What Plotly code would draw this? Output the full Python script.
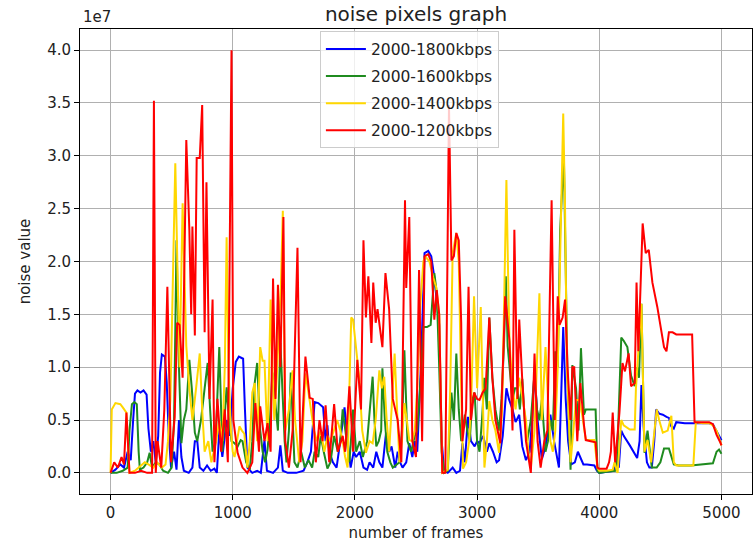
import plotly.graph_objects as go

# values in units of 1e7
blue_frames = [0,40,80,110,140,165,185,200,220,245,270,295,310,330,350,370,390,405,420,445,460,475,495,520,540,560,580,600,640,670,690,710,730,760,790,820,850,870,890,915,950,975,1000,1025,1050,1085,1100,1120,1160,1200,1230,1260,1280,1330,1370,1390,1410,1450,1520,1580,1610,1640,1670,1700,1740,1760,1775,1790,1820,1850,1880,1915,1940,1965,1990,2010,2040,2070,2100,2120,2150,2175,2200,2225,2255,2280,2300,2330,2350,2370,2390,2420,2445,2470,2490,2510,2540,2570,2600,2625,2650,2670,2690,2710,2730,2760,2800,2830,2860,2880,2900,2925,2950,2980,3000,3020,3050,3080,3100,3130,3160,3180,3210,3240,3260,3290,3315,3345,3370,3400,3430,3450,3470,3495,3530,3560,3600,3630,3670,3690,3705,3725,3745,3770,3800,3825,3845,3870,3900,3960,3980,4000,4060,4120,4140,4160,4180,4200,4250,4310,4330,4345,4365,4390,4410,4430,4450,4465,4490,4520,4550,4570,4590,4610,4630,4700,4800,4900,4930,4960,5000]
blue_values = [0.0,0.03,0.08,0.05,0.2,0.12,0.5,0.75,0.78,0.76,0.78,0.74,0.42,0.2,0.3,0.1,0.35,0.95,1.12,1.1,0.85,0.4,0.05,0.2,0.03,0.5,0.15,0.02,0.0,0.05,0.3,0.3,0.05,0.02,0.07,0.02,0.04,0.0,0.4,0.15,0.5,0.35,0.8,1.05,1.1,1.08,0.6,0.05,0.0,0.02,0.0,0.31,0.02,0.0,0.05,0.26,0.02,0.0,0.0,0.02,0.1,0.2,0.67,0.66,0.62,0.3,0.45,0.2,0.1,0.05,0.3,0.62,0.3,0.05,0.2,0.15,0.2,0.05,0.03,0.1,0.05,0.2,0.1,0.05,0.38,0.2,0.25,0.05,0.2,0.1,0.05,0.1,0.28,0.15,0.3,0.2,1.0,2.08,2.1,2.05,1.85,1.6,1.4,0.3,0.02,0.0,0.05,0.0,0.02,0.28,0.1,0.53,0.3,0.25,0.3,0.28,0.35,0.2,0.28,0.2,0.1,0.12,0.35,0.8,0.7,0.6,0.48,0.55,0.25,0.12,0.2,0.5,0.97,0.5,0.13,0.25,0.55,0.3,0.05,0.8,1.38,0.7,0.3,0.08,0.1,0.2,0.15,0.08,0.08,0.07,0.02,0.0,0.01,0.02,0.1,0.05,0.4,0.35,0.26,0.14,0.3,0.83,0.4,0.1,0.05,0.05,0.3,0.6,0.56,0.55,0.53,0.52,0.44,0.42,0.48,0.47,0.47,0.47,0.46,0.4,0.31]

green_frames = [0,50,100,140,155,175,195,215,230,240,270,300,320,340,370,400,430,470,500,520,540,560,580,600,620,645,665,690,710,740,770,795,815,835,860,890,915,935,950,970,990,1015,1040,1065,1080,1110,1140,1160,1180,1200,1225,1245,1265,1285,1305,1325,1345,1370,1390,1405,1425,1440,1460,1475,1490,1505,1530,1560,1590,1620,1650,1670,1700,1720,1745,1775,1800,1830,1860,1880,1900,1920,1955,1985,2010,2040,2065,2100,2125,2145,2160,2175,2195,2215,2225,2245,2265,2290,2310,2340,2365,2385,2405,2430,2460,2490,2510,2545,2560,2590,2620,2650,2670,2690,2710,2730,2760,2790,2810,2830,2850,2870,2900,2920,2940,2960,2980,3000,3020,3040,3060,3080,3100,3125,3150,3180,3200,3220,3235,3250,3265,3290,3310,3330,3350,3370,3390,3410,3440,3470,3490,3510,3530,3560,3580,3600,3620,3640,3660,3680,3710,3725,3740,3765,3780,3810,3830,3850,3875,3890,3930,3970,3985,4000,4060,4130,4145,4165,4180,4200,4230,4260,4290,4310,4325,4345,4370,4395,4430,4470,4500,4530,4570,4610,4650,4750,4850,4930,4960,4980,5000]
green_values = [0.0,0.0,0.02,0.05,0.4,0.65,0.67,0.65,0.2,0.03,0.05,0.1,0.19,0.05,0.1,0.08,0.02,0.0,0.05,0.5,2.2,1.0,0.28,0.5,0.6,1.07,0.8,0.38,0.3,0.5,0.8,1.04,0.6,0.2,0.3,1.19,0.2,0.5,0.81,0.5,0.3,0.28,0.25,0.31,0.3,0.1,0.03,0.3,0.85,1.04,0.4,0.2,0.1,0.22,0.5,0.95,0.7,0.4,1.23,0.85,0.3,0.1,0.4,0.95,0.5,0.1,0.05,0.2,0.05,0.12,0.05,0.2,0.15,0.35,0.2,0.04,0.1,0.35,0.2,0.3,0.6,0.4,0.1,0.6,0.2,0.3,0.15,0.3,0.6,0.91,0.5,0.25,0.3,0.4,0.99,0.5,0.2,0.1,0.05,0.08,0.1,0.4,1.16,0.3,0.2,0.35,0.4,1.0,1.38,1.38,1.4,1.89,1.7,1.0,0.2,0.0,0.02,0.76,0.5,1.13,0.6,0.3,0.55,0.4,0.3,0.69,0.76,0.3,0.2,0.5,0.9,0.6,1.47,0.9,0.6,0.4,0.7,1.2,1.86,1.2,1.0,0.69,0.8,0.8,0.6,0.89,0.5,0.3,0.5,0.95,0.6,0.5,0.69,0.2,0.3,0.5,0.4,1.15,1.0,2.3,3.0,1.8,0.9,0.03,1.02,0.8,0.4,1.18,0.55,0.6,0.6,0.6,0.02,0.0,0.01,0.02,0.1,0.7,1.28,1.25,1.19,0.92,0.82,1.0,0.9,1.6,0.19,0.4,0.05,0.05,0.1,0.23,0.23,0.08,0.07,0.07,0.08,0.09,0.2,0.22,0.18]

yellow_frames = [0,10,40,80,100,130,155,200,250,280,310,350,380,420,450,470,490,530,550,565,590,605,620,645,670,700,730,750,770,800,825,845,865,890,915,935,950,965,985,1000,1015,1035,1055,1075,1095,1120,1140,1160,1180,1200,1225,1245,1260,1285,1310,1325,1340,1360,1380,1395,1410,1430,1460,1490,1510,1545,1570,1595,1615,1640,1665,1690,1720,1750,1775,1800,1830,1855,1880,1900,1920,1940,1955,1970,1985,2010,2035,2060,2090,2120,2145,2170,2200,2220,2240,2260,2280,2300,2325,2345,2365,2385,2405,2425,2445,2470,2490,2510,2530,2560,2575,2610,2640,2665,2690,2715,2760,2780,2800,2830,2850,2870,2885,2910,2935,2955,2975,3000,3030,3060,3080,3100,3125,3150,3180,3205,3220,3240,3255,3265,3290,3315,3345,3370,3400,3420,3440,3470,3490,3510,3530,3560,3580,3600,3620,3640,3660,3680,3705,3720,3735,3765,3790,3810,3835,3860,3890,3930,3960,3985,4000,4060,4110,4125,4150,4180,4200,4250,4290,4300,4315,4345,4370,4395,4425,4450,4470,4490,4520,4560,4590,4610,4630,4700,4770,4790,4850,4900,4930,4960,5000]
yellow_values = [0.0,0.6,0.66,0.65,0.62,0.57,0.0,0.02,0.07,0.1,0.08,0.05,0.1,0.05,0.08,0.3,0.7,2.93,1.8,1.0,2.55,1.8,1.2,0.8,0.5,0.8,1.13,0.6,0.2,0.3,0.1,0.2,0.3,0.5,0.3,1.0,2.23,1.0,0.4,0.2,0.15,0.3,0.44,0.4,0.37,0.05,0.3,0.76,0.85,0.3,1.19,1.06,1.06,0.3,1.64,1.0,0.5,0.9,1.45,1.8,2.48,0.4,0.6,0.97,0.5,0.1,0.3,0.94,0.8,0.6,0.4,0.3,0.4,0.2,0.35,0.3,0.4,0.5,0.4,0.3,0.15,0.05,0.8,1.47,1.45,1.16,0.9,0.4,0.19,0.3,0.28,0.5,0.97,0.8,0.91,0.5,0.2,0.6,1.13,0.6,0.1,0.3,0.66,0.5,0.31,0.3,0.4,0.8,1.5,2.0,2.05,2.0,1.85,1.76,1.5,0.0,0.03,0.8,2.08,2.27,2.0,0.8,0.04,0.1,0.3,0.8,1.67,0.8,1.57,0.05,0.3,0.68,0.5,0.4,0.19,0.6,1.6,2.77,1.8,1.25,0.8,0.6,0.9,0.7,0.5,0.2,0.05,0.4,1.0,1.7,0.5,1.19,0.7,0.3,0.2,0.4,1.0,2.0,3.4,2.5,1.0,0.1,0.4,0.69,0.69,0.55,0.31,0.31,0.31,0.05,0.02,0.02,0.03,0.1,0.0,0.5,0.45,0.41,0.41,0.8,1.07,1.6,0.2,0.31,0.1,0.4,0.6,0.5,0.38,0.4,0.54,0.1,0.07,0.07,0.07,0.48,0.47,0.47,0.45,0.4,0.26]

red_frames = [0,30,60,90,110,130,155,200,250,300,340,355,370,385,415,440,465,480,495,525,545,565,590,620,645,660,670,690,705,730,750,770,785,810,835,850,875,905,935,960,990,1005,1040,1080,1120,1160,1185,1215,1225,1260,1285,1310,1330,1350,1370,1390,1415,1430,1460,1490,1530,1555,1595,1630,1655,1680,1710,1735,1760,1790,1830,1860,1900,1920,1955,1985,2020,2050,2070,2090,2110,2135,2150,2170,2185,2225,2250,2280,2310,2350,2380,2410,2420,2445,2470,2500,2525,2550,2570,2600,2625,2650,2670,2690,2715,2740,2770,2790,2810,2830,2850,2870,2880,2910,2930,2950,2975,3000,3020,3045,3070,3100,3125,3150,3190,3230,3265,3290,3305,3330,3345,3370,3400,3440,3470,3495,3520,3550,3575,3610,3635,3660,3675,3700,3720,3740,3765,3780,3795,3820,3845,3875,3890,3930,3970,3985,4000,4060,4080,4095,4110,4130,4165,4190,4210,4240,4260,4290,4305,4320,4335,4355,4380,4405,4435,4475,4530,4550,4570,4600,4630,4700,4760,4780,4850,4900,4930,4960,4990,5000]
red_values = [0.0,0.1,0.05,0.15,0.08,0.57,0.0,0.0,0.02,0.0,0.0,3.52,0.0,0.3,0.05,0.6,1.76,0.8,0.1,0.53,1.42,1.4,0.9,3.15,2.3,1.5,2.33,1.3,2.98,2.98,3.48,1.33,2.75,0.7,1.64,0.1,0.7,0.2,0.6,0.1,4.0,0.5,0.19,0.05,0.0,0.1,0.66,0.2,0.63,0.3,0.47,0.2,1.84,0.7,1.78,1.0,2.42,0.3,0.05,0.4,2.13,0.1,1.1,0.71,0.7,0.1,0.5,0.3,0.64,0.1,0.65,0.2,0.35,0.2,0.82,0.2,1.07,0.6,2.2,1.47,1.86,1.23,1.8,1.42,1.55,1.19,1.89,1.55,0.7,0.5,0.1,2.58,1.75,2.42,0.3,0.15,1.92,0.3,2.05,2.07,2.0,1.45,1.73,1.5,0.0,0.0,3.48,2.01,2.05,2.27,2.2,1.42,0.3,0.6,1.76,0.5,0.76,0.7,0.69,0.76,0.8,1.47,0.9,0.5,0.28,1.67,1.25,0.4,2.3,0.7,1.45,0.87,0.3,0.0,1.13,0.3,0.05,0.3,0.4,2.58,0.5,1.67,1.4,1.47,1.64,1.0,0.5,1.0,1.0,0.3,0.85,0.45,0.31,0.3,0.29,0.05,0.04,0.04,0.1,0.2,0.57,0.1,0.57,1.04,0.96,1.13,0.82,0.85,1.8,1.15,1.6,2.36,2.08,2.11,1.8,1.57,1.19,1.15,1.33,1.33,1.31,1.31,1.31,0.48,0.48,0.48,0.46,0.36,0.29,0.26]

series_names = ["2000-1800kbps", "2000-1600kbps", "2000-1400kbps", "2000-1200kbps"]
series_colors = ["#0000ff", "#1f8b1f", "#ffd700", "#ff0000"]
x_ticks = [0, 1000, 2000, 3000, 4000, 5000]
y_ticks = [0.0, 0.5, 1.0, 1.5, 2.0, 2.5, 3.0, 3.5, 4.0]

FONT = "DejaVu Sans"

fig = go.Figure()
data = [(blue_frames, blue_values), (green_frames, green_values),
        (yellow_frames, yellow_values), (red_frames, red_values)]
for i, ((xs, ys), name, col) in enumerate(zip(data, series_names, series_colors)):
    fig.add_trace(go.Scatter(x=xs, y=ys, mode="lines", name=name,
                             line=dict(color=col, width=2),
                             legendgroup=f"g{i}"))

fig.update_layout(
    width=754, height=547,
    margin=dict(l=80, r=2, t=29, b=53),
    paper_bgcolor="white", plot_bgcolor="white",
    font=dict(family=FONT, size=15, color="#222222"),
    title=dict(text="noise pixels graph", x=0.5, xanchor="center",
               xref="paper", y=1 - 14 / 547, yanchor="middle",
               font=dict(size=20, family=FONT, color="#222222")),
    showlegend=True,
    legend=dict(x=0.357, y=0.995, xanchor="left", yanchor="top",
                bgcolor="rgba(255,255,255,0.8)", bordercolor="#cccccc",
                borderwidth=1, font=dict(size=15.5, family=FONT),
                tracegroupgap=4, itemwidth=40),
    xaxis=dict(range=[-250, 5250], tickvals=x_ticks, ticktext=[str(t) for t in x_ticks],
               showgrid=True, gridcolor="#b0b0b0", gridwidth=1,
               showline=True, linecolor="black", linewidth=1, mirror=True,
               ticks="outside", ticklen=5, tickcolor="black", zeroline=False,
               title=dict(text="number of frames", font=dict(size=15, family=FONT), standoff=6)),
    yaxis=dict(range=[-0.2, 4.2], tickvals=y_ticks, ticktext=[f"{t:.1f}" for t in y_ticks],
               showgrid=True, gridcolor="#b0b0b0", gridwidth=1,
               showline=True, linecolor="black", linewidth=1, mirror=True,
               ticks="outside", ticklen=5, tickcolor="black", zeroline=False,
               title=dict(text="noise value", font=dict(size=15, family=FONT), standoff=12)),
    annotations=[dict(text="1e7", x=0, xref="paper", xanchor="left",
                      y=1, yref="paper", yanchor="bottom", yshift=1, xshift=1,
                      showarrow=False, font=dict(size=15, family=FONT, color="#222222"))],
)

fig.write_html("out.html")
